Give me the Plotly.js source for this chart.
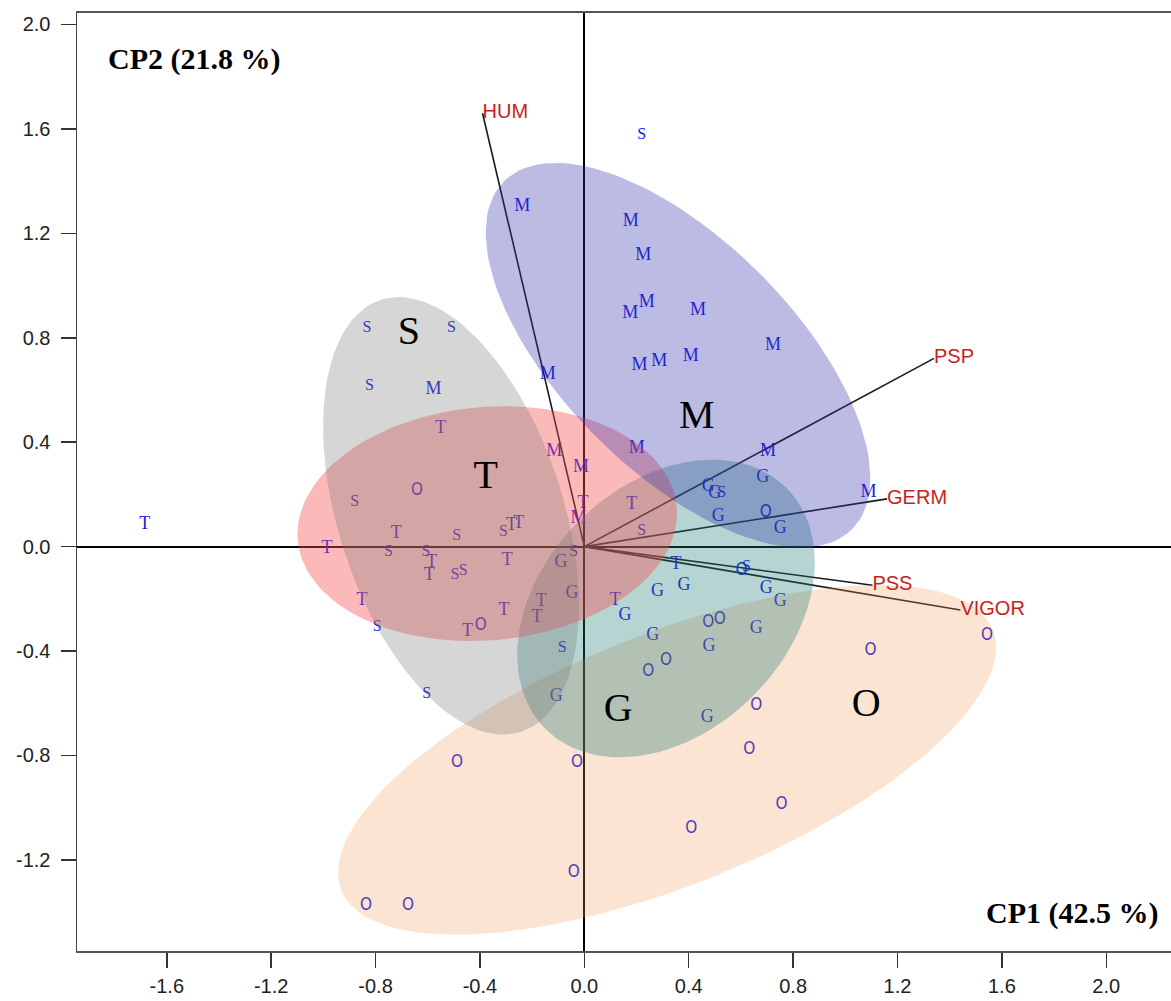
<!DOCTYPE html>
<html>
<head>
<meta charset="utf-8">
<script src="https://cdn.plot.ly/plotly-3.0.1.min.js"></script>
<style>html,body{margin:0;padding:0;background:#fff;}#chart{width:1171px;height:1001px;}</style>
</head>
<body>
<div id="chart"></div>
<script>
// ---- Scores (CP1, CP2) per group ----
const mX = [-0.238, 0.178, 0.226, 0.239, 0.176, 0.436, 0.723, 0.211, 0.287, 0.408, -0.140, -0.578, -0.115, -0.013, 0.201, 0.704, -0.022, 1.089];
const mY = [1.303, 1.245, 1.115, 0.934, 0.892, 0.906, 0.772, 0.695, 0.711, 0.730, 0.660, 0.603, 0.364, 0.304, 0.374, 0.364, 0.107, 0.209];

const sX = [0.220, -0.833, -0.509, -0.823, -0.880, -0.489, -0.310, -0.751, -0.607, -0.496, -0.464, -0.041, 0.220, 0.526, 0.621, -0.794, -0.085, -0.604];
const sY = [1.576, 0.836, 0.836, 0.616, 0.171, 0.041, 0.056, -0.020, -0.020, -0.107, -0.094, -0.020, 0.058, 0.205, -0.078, -0.307, -0.389, -0.564];

const tX = [-1.684, -0.550, -0.005, 0.182, -0.721, -0.279, -0.251, -0.986, -0.585, -0.594, -0.295, -0.852, -0.308, -0.165, -0.181, -0.448, 0.118, 0.351];
const tY = [0.085, 0.453, 0.164, 0.160, 0.050, 0.081, 0.088, -0.008, -0.059, -0.112, -0.052, -0.205, -0.243, -0.211, -0.271, -0.326, -0.205, -0.069];

const gX = [0.475, 0.500, 0.684, 0.513, 0.751, -0.089, -0.047, 0.280, 0.382, 0.697, 0.751, 0.156, 0.659, 0.262, 0.478, -0.108, 0.471];
const gY = [0.230, 0.205, 0.266, 0.117, 0.071, -0.059, -0.181, -0.173, -0.150, -0.160, -0.211, -0.262, -0.313, -0.341, -0.383, -0.574, -0.654];

const oX = [-0.641, -0.397, 0.695, 0.602, 0.475, 0.519, 1.543, 1.097, 0.245, 0.313, 0.659, 0.632, -0.488, -0.028, 0.756, 0.410, -0.040, -0.837, -0.676];
const oY = [0.213, -0.303, 0.130, -0.094, -0.290, -0.281, -0.341, -0.399, -0.481, -0.438, -0.608, -0.777, -0.828, -0.828, -0.987, -1.080, -1.248, -1.375, -1.375];

// ---- Variable loadings (arrows) ----
const varNames = ["HUM", "PSP", "GERM", "PSS", "VIGOR"];
const varX = [-0.390, 1.340, 1.160, 1.104, 1.441];
const varY = [1.660, 0.721, 0.183, -0.148, -0.243];

// ---- Group ellipses ----
const groupNames = ["O", "G", "T", "S", "M"];
const ellCx = [0.317, 0.313, -0.372, -0.511, 0.359];
const ellCy = [-0.817, -0.237, 0.088, 0.118, 0.733];
const ellA = [1.344, 0.653, 0.729, 0.870, 0.943];
const ellB = [0.481, 0.473, 0.447, 0.431, 0.443];
const ellAngle = [21.8, 45, 5, -72, -45];
const ellColors = ["rgba(240,150,80,0.26)", "rgba(25,120,115,0.32)", "rgba(245,80,80,0.40)", "rgba(118,118,118,0.30)", "rgba(50,50,170,0.33)"];

// ---- Group label positions ----
const labX = [1.080, 0.130, -0.378, -0.672, 0.431];
const labY = [-0.611, -0.630, 0.263, 0.813, 0.492];

const xTicks = [-1.6, -1.2, -0.8, -0.4, 0.0, 0.4, 0.8, 1.2, 1.6, 2.0];
const yTicks = [-1.2, -0.8, -0.4, 0.0, 0.4, 0.8, 1.2, 1.6, 2.0];

const traces = [];

// arrows
const ax = [], ay = [];
varX.forEach((v, i) => { ax.push(0, v, null); ay.push(0, varY[i], null); });
traces.push({x: ax, y: ay, mode: 'lines', line: {color: '#1a1a1a', width: 1.6}, hoverinfo: 'skip', showlegend: false});

// points as text
const serif = "Liberation Serif, Times New Roman, serif";
const ptColor = "rgb(25,25,228)";
function txt(xs, ys, letter, fam, size) {
  return {x: xs, y: ys, mode: 'text', text: xs.map(() => letter), textposition: 'middle center',
    textfont: {family: fam, size: size, color: ptColor}, hoverinfo: 'skip', showlegend: false, cliponaxis: false};
}
traces.push(txt(mX, mY, 'M', serif, 18));
traces.push(txt(sX, sY, 'S', serif, 16));
traces.push(txt(tX, tY, 'T', serif, 18));
traces.push(txt(gX, gY, 'G', serif, 18));
traces.push(txt(oX, oY, 'O', "Liberation Sans Narrow, DejaVu Sans Condensed, Liberation Sans, sans-serif", 17));

// ellipses
for (let k = 0; k < groupNames.length; k++) {
  const ex = [], ey = [];
  const phi = ellAngle[k] * Math.PI / 180;
  for (let i = 0; i <= 120; i++) {
    const t = 2 * Math.PI * i / 120;
    const c = Math.cos(t), s = Math.sin(t);
    ex.push(ellCx[k] + ellA[k] * c * Math.cos(phi) - ellB[k] * s * Math.sin(phi));
    ey.push(ellCy[k] + ellA[k] * c * Math.sin(phi) + ellB[k] * s * Math.cos(phi));
  }
  traces.push({x: ex, y: ey, mode: 'lines', fill: 'toself', fillcolor: ellColors[k], line: {width: 0, color: 'rgba(0,0,0,0)'}, hoverinfo: 'skip', showlegend: false});
}

// group labels
traces.push({x: labX, y: labY, mode: 'text', text: groupNames, textposition: 'middle center',
  textfont: {family: serif, size: 40, color: '#000'}, hoverinfo: 'skip', showlegend: false});

// variable labels
traces.push({x: varX, y: varY, mode: 'text', text: varNames, textposition: 'middle right',
  textfont: {family: "Liberation Sans, Arial, sans-serif", size: 20, color: 'rgb(200,30,30)'}, hoverinfo: 'skip', showlegend: false, cliponaxis: false});

const layout = {
  width: 1171, height: 1001,
  margin: {l: 77, r: 0, t: 13, b: 50},
  paper_bgcolor: '#fff', plot_bgcolor: '#fff',
  showlegend: false,
  xaxis: {
    range: [-1.944, 2.248], showgrid: false,
    zeroline: true, zerolinecolor: '#000', zerolinewidth: 2,
    showline: true, linecolor: '#555', linewidth: 2, mirror: true,
    ticks: 'outside', ticklen: 15, tickwidth: 1.5, tickcolor: '#333',
    tickvals: xTicks, ticktext: xTicks.map(v => v.toFixed(1)),
    tickfont: {family: "Liberation Sans, Arial, sans-serif", size: 20, color: '#222'},
    ticklabelstandoff: 1
  },
  yaxis: {
    range: [-1.549, 2.044], showgrid: false,
    zeroline: true, zerolinecolor: '#000', zerolinewidth: 2,
    showline: true, linecolor: '#444', linewidth: 1.5, mirror: false,
    ticks: 'outside', ticklen: 15, tickwidth: 1.5, tickcolor: '#333',
    tickvals: yTicks, ticktext: yTicks.map(v => v.toFixed(1)),
    tickfont: {family: "Liberation Sans, Arial, sans-serif", size: 20, color: '#222'},
    ticklabelstandoff: 6
  },
  annotations: [
    {text: '<b>CP2 (21.8 %)</b>', xref: 'paper', yref: 'paper', x: 0.0265, y: 0.951, xanchor: 'left', yanchor: 'middle',
     showarrow: false, font: {family: serif, size: 30, color: '#000'}},
    {text: '<b>CP1 (42.5 %)</b>', xref: 'paper', yref: 'paper', x: 0.990, y: 0.041, xanchor: 'right', yanchor: 'middle',
     showarrow: false, font: {family: serif, size: 30, color: '#000'}}
  ]
};

Plotly.newPlot('chart', traces, layout, {staticPlot: true, displayModeBar: false});
</script>
</body>
</html>
